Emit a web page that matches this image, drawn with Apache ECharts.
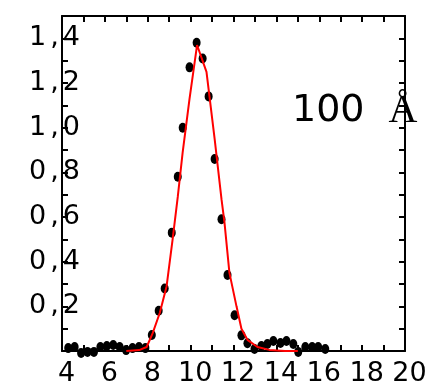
<!DOCTYPE html>
<html>
<head>
<meta charset="utf-8">
<script src="https://cdn.jsdelivr.net/npm/echarts@6/dist/echarts.min.js"></script>
<style>
  html, body { margin: 0; padding: 0; background: #fff; }
  #chart { width: 439px; height: 390px; }
</style>
</head>
<body>
<div id="chart"></div>
<script>
// measured points (black dots)
const pointX = [4.29, 4.59, 4.89, 5.19, 5.49, 5.79, 6.09, 6.39, 6.69, 6.99, 7.29, 7.59, 7.89,
  8.19, 8.51, 8.79, 9.12, 9.40, 9.63, 9.95, 10.28, 10.56, 10.84, 11.12, 11.44, 11.72, 12.05, 12.37, 12.65,
  12.98, 13.30, 13.58, 13.86, 14.19, 14.47, 14.79, 15.02, 15.35, 15.67, 15.95, 16.28]
const pointY = [0.013, 0.018, -0.009, -0.004, -0.004, 0.018, 0.022, 0.027, 0.018, 0.004, 0.013, 0.018, 0.013,
  0.072, 0.18, 0.28, 0.53, 0.78, 1.00, 1.27, 1.38, 1.31, 1.14, 0.86, 0.59, 0.34, 0.16, 0.07, 0.035,
  0.009, 0.022, 0.031, 0.045, 0.036, 0.045, 0.031, -0.004, 0.018, 0.018, 0.018, 0.009]

// fitted curve (red)
const fitX = [7.0, 7.6, 7.95, 8.23, 8.56, 8.88, 9.16, 9.40, 9.63, 9.95, 10.30, 10.74, 11.12, 11.44, 11.58, 11.81, 12.14, 12.37, 12.65, 13.12, 13.67, 14.40, 15.0]
const fitY = [0, 0.004, 0.018, 0.08, 0.17, 0.29, 0.50, 0.69, 0.89, 1.13, 1.37, 1.25, 0.95, 0.68, 0.575, 0.35, 0.20, 0.10, 0.05, 0.018, 0.005, 0, 0]

// axis ticks and labels
const xLabels = [4, 6, 8, 10, 12, 14, 16, 18, 20]
const xTicks = [4, 5, 6, 7, 8, 9, 10, 11, 12, 13, 14, 15, 16, 17, 18, 19, 20]
const yLabels = [0.2, 0.4, 0.6, 0.8, 1.0, 1.2, 1.4]
const yTicks = [0.1, 0.2, 0.3, 0.4, 0.5, 0.6, 0.7, 0.8, 0.9, 1.0, 1.1, 1.2, 1.3, 1.4]

const font = 'DejaVu Sans'
const axisLine = { show: true, onZero: false, lineStyle: { color: '#000', width: 2 } }
const tick = (vals) => ({ show: true, inside: true, length: 6, lineStyle: { color: '#000', width: 2 }, customValues: vals })

const chart = echarts.init(document.getElementById('chart'))

chart.setOption({
  animation: false,
  title: {
    text: '100 {a|Å}',
    left: 287,
    top: 86,
    textStyle: {
      fontFamily: font,
      fontSize: 38,
      fontWeight: 'normal',
      color: '#000',
      rich: {
        a: { fontFamily: 'Liberation Serif', fontSize: 40, color: '#000', padding: [0, 0, 0, 12] }
      }
    }
  },
  grid: { left: 62, right: 34, top: 16, bottom: 39 },
  xAxis: [
    {
      type: 'value', min: 4, max: 20, position: 'bottom',
      axisLine: axisLine,
      axisTick: tick(xTicks),
      splitLine: { show: false },
      axisLabel: {
        customValues: xLabels,
        fontFamily: font, fontSize: 27, color: '#000', margin: 9,
        padding: [0, 0, 0, 9]
      }
    },
    {
      type: 'value', min: 4, max: 20, position: 'top',
      axisLine: axisLine,
      axisTick: tick(xTicks),
      splitLine: { show: false },
      axisLabel: { show: false }
    }
  ],
  yAxis: [
    {
      type: 'value', min: 0, max: 1.5, position: 'left',
      axisLine: axisLine,
      axisTick: tick(yTicks),
      splitLine: { show: false },
      axisLabel: {
        customValues: yLabels,
        margin: -18,
        formatter: (v) => {
          const p = v.toFixed(1).split('.')
          return '{d|' + p[0] + '}{c|,}{d|' + p[1] + '}'
        },
        rich: {
          d: { fontFamily: font, fontSize: 27, color: '#000' },
          c: { fontFamily: font, fontSize: 27, color: '#000', padding: [0, 4, 0, 4] }
        }
      }
    },
    {
      type: 'value', min: 0, max: 1.5, position: 'right',
      axisLine: axisLine,
      axisTick: tick(yTicks),
      splitLine: { show: false },
      axisLabel: { show: false }
    }
  ],
  series: [
    {
      type: 'scatter',
      data: pointX.map((x, i) => [x, pointY[i]]),
      symbol: 'circle',
      symbolSize: [8, 10],
      clip: false,
      itemStyle: { color: '#000', opacity: 1 },
      z: 3
    },
    {
      type: 'line',
      data: fitX.map((x, i) => [x, fitY[i]]),
      showSymbol: false,
      smooth: false,
      lineStyle: { color: '#ff0000', width: 2 },
      z: 4
    }
  ]
})
</script>
</body>
</html>
